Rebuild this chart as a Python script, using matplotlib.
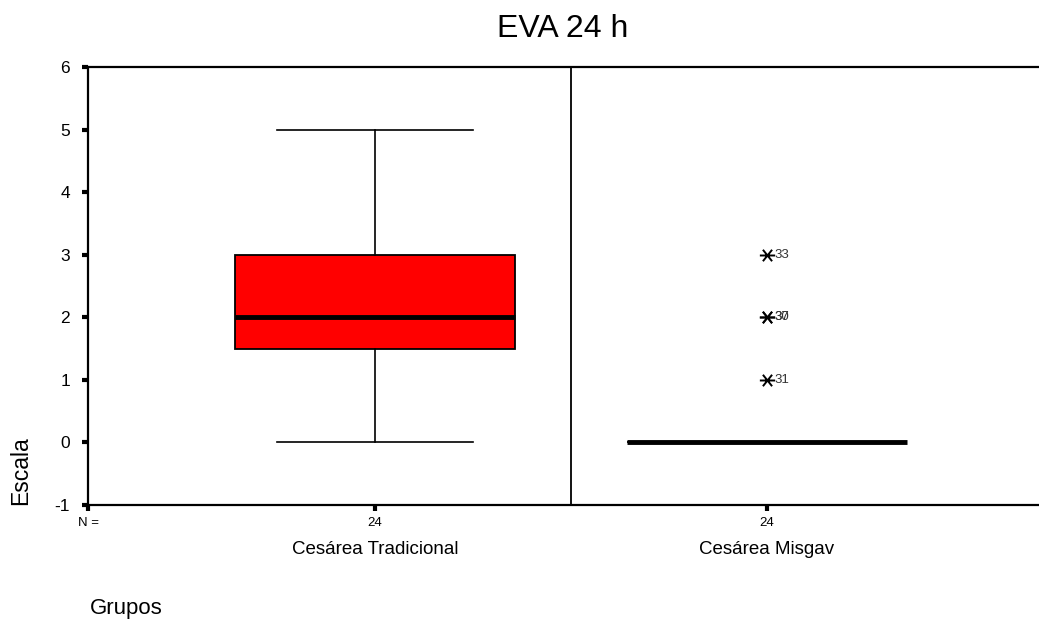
import numpy as np
import matplotlib.pyplot as plt
from matplotlib.path import Path

plt.rcParams['font.family'] = ['Liberation Sans', 'DejaVu Sans']
plt.rcParams['axes.unicode_minus'] = False

groups = ['Cesárea Tradicional', 'Cesárea Misgav']
counts = [24, 24]
# box statistics
q1 = [1.5, 0]
med = [2, 0]
q3 = [3, 0]
whislo = [0, 0]
whishi = [5, 0]
out_vals = [[], [3, 2, 2, 1]]
out_ids = [[], [33, 30, 37, 31]]

# SPSS style outlier mark: an X with a horizontal bar
star = Path([(-1, 0), (1, 0), (-0.6, -0.75), (0.6, 0.75), (-0.6, 0.75), (0.6, -0.75)],
            [Path.MOVETO, Path.LINETO] * 3)

fig = plt.figure(figsize=(10.39, 6.2), dpi=100)
ax = fig.add_axes([88 / 1039, 1 - 505 / 620, 1 - 88 / 1039, (505 - 67) / 620])

xlo, xhi = 1 - 287 / 392, 1 + 664 / 392
stats = []
for i in range(len(groups)):
    stats.append(dict(med=med[i], q1=q1[i], q3=q3[i], whislo=whislo[i],
                      whishi=whishi[i], fliers=[], label=groups[i]))
pos = np.arange(1, len(groups) + 1)
ax.bxp(stats, positions=pos, widths=0.712, capwidths=0.5, patch_artist=True,
       showfliers=False,
       boxprops=dict(facecolor='#ff0000', edgecolor='black', linewidth=1.3),
       medianprops=dict(color='black', linewidth=3.5),
       whiskerprops=dict(color='black', linewidth=1.2),
       capprops=dict(color='black', linewidth=1.2))

for i in range(len(groups)):
    for v, n in zip(out_vals[i], out_ids[i]):
        ax.plot(pos[i], v, marker=star, color='black', markersize=11,
                markeredgewidth=1.4, linestyle='none')
        ax.annotate(str(n), (pos[i], v), xytext=(5.5, 0), textcoords='offset points',
                    va='center', ha='left', fontsize=9.5, color='#333333')

ax.axvline(1.5, color='black', linewidth=1.3)

ax.set_xlim(xlo, xhi)
ax.set_ylim(-1, 6)
ax.set_yticks(range(-1, 7))
ax.set_xticks([xlo] + list(pos))
ax.set_xticklabels(['N ='] + [str(c) for c in counts])
ax.tick_params(axis='y', direction='out', length=4, width=3, labelsize=12.5, pad=9)
ax.tick_params(axis='x', direction='out', length=4, width=3, labelsize=9.5, pad=5)
ax.spines['right'].set_visible(False)
for s in ['left', 'bottom', 'top']:
    ax.spines[s].set_linewidth(1.6)

tr = ax.get_xaxis_transform()
for p, g in zip(pos, groups):
    ax.text(p, -(550 - 505) / 438, g, transform=tr, ha='center', va='center', fontsize=13.5)

fig.text(563 / 1039, 1 - 37 / 620, 'EVA 24 h', ha='center', va='baseline', fontsize=23)
fig.text(21 / 1039, 1 - 471 / 620, 'Escala', rotation=90, ha='center', va='center', fontsize=16.5)
fig.text(126 / 1039, 1 - 614 / 620, 'Grupos', ha='center', va='baseline', fontsize=16)

fig.savefig('out.png', dpi=100)
